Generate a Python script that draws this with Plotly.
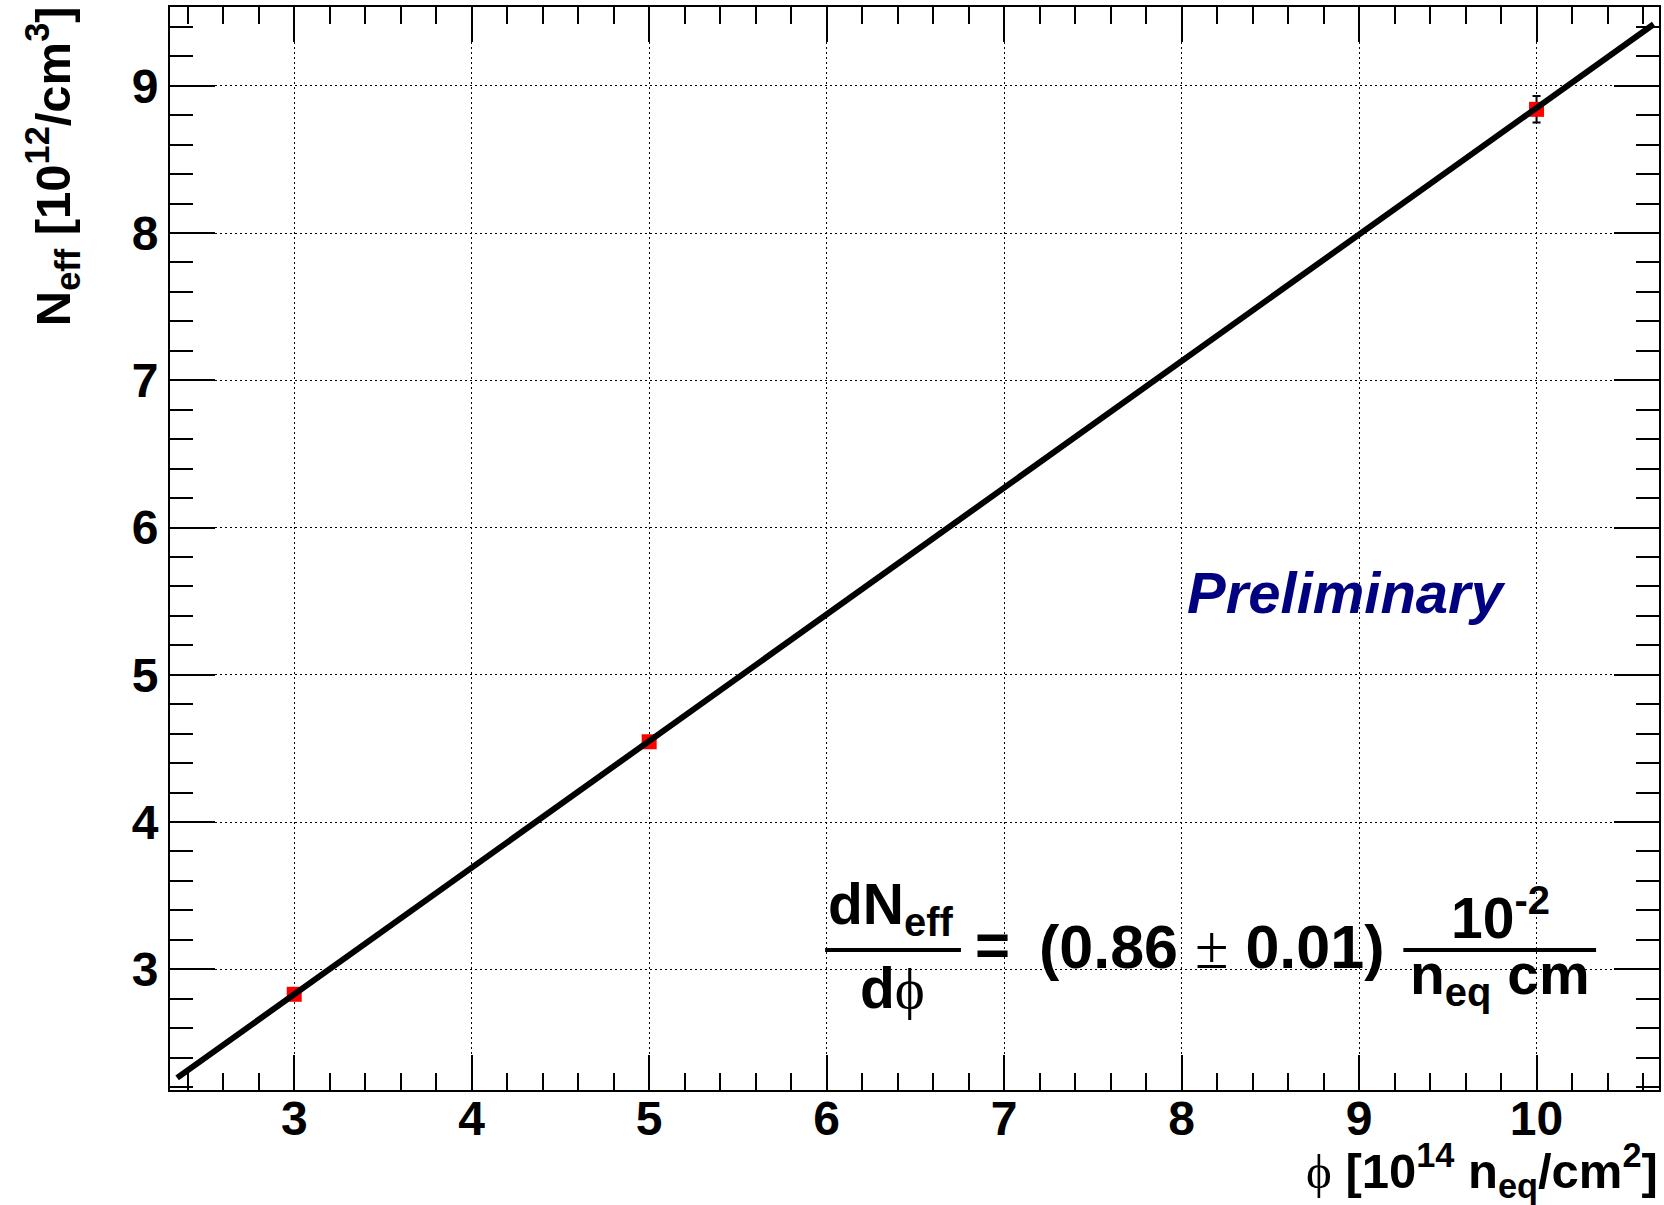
import numpy as np
import plotly.graph_objects as go

# Measured effective doping vs. fluence
fluence = [3, 5, 10]              # [1e14 n_eq/cm^2]
neff = [2.83, 4.545, 8.84]        # [1e12 /cm^3]
neff_err = [0.02, 0.02, 0.09]

# Linear fit: N_eff = intercept + slope * phi
fit_slope = 0.86
fit_slope_err = 0.01
fit_intercept = 0.25
fit_range = [2.34, 10.66]

x_range = [2.3, 10.69]
y_range = [2.18, 9.535]
x_tick_vals = [3, 4, 5, 6, 7, 8, 9, 10]
y_tick_vals = [3, 4, 5, 6, 7, 8, 9]

W, H = 1664, 1205
ML, MR, MT, MB = 170, 3, 7, 115
PW, PH = W - ML - MR, H - MT - MB


def paper(xp, yp):
    """Page pixel position -> paper coordinates."""
    return (xp - ML) / PW, (H - MB - yp) / PH


SANS = "Liberation Sans, Arial, Helvetica, sans-serif"
SERIF = "Liberation Serif, DejaVu Serif, Times New Roman, serif"

fig = go.Figure()

# data points with error bars
fig.add_trace(go.Scatter(
    x=fluence, y=neff, mode="markers",
    marker=dict(symbol="square", size=15, color="#ff0000", line=dict(width=0)),
    error_y=dict(type="data", array=neff_err, visible=True, color="black",
                 thickness=2, width=4),
    showlegend=False, hoverinfo="skip",
))

# fitted line drawn over the points
fx = np.linspace(fit_range[0], fit_range[1], 200)
fy = fit_intercept + fit_slope * fx
fig.add_trace(go.Scatter(
    x=fx, y=fy, mode="lines", line=dict(color="black", width=6),
    showlegend=False, hoverinfo="skip",
))

axis_common = dict(
    showline=True, linecolor="black", linewidth=2, mirror="ticks",
    ticks="inside", tickcolor="black", tickwidth=2,
    showgrid=True, gridcolor="black", gridwidth=1, griddash="2px,3px",
    zeroline=False,
    tickfont=dict(family=SANS, size=48, color="black", weight="bold"),
)

fig.update_xaxes(
    range=x_range, tickmode="array", tickvals=x_tick_vals,
    ticktext=[str(v) for v in x_tick_vals], ticklen=35,
    ticklabelstandoff=-15,
    minor=dict(dtick=0.2, tick0=0, ticks="inside", ticklen=17,
               tickwidth=2, tickcolor="black", showgrid=False),
    **axis_common,
)
fig.update_yaxes(
    range=y_range, tickmode="array", tickvals=y_tick_vals,
    ticktext=[str(v) for v in y_tick_vals], ticklen=45,
    minor=dict(dtick=0.2, tick0=0, ticks="inside", ticklen=23,
               tickwidth=2, tickcolor="black", showgrid=False),
    **axis_common,
)

annotations = []


def add_text(text, xp, yp, size, xanchor="center", yanchor="middle",
             color="black", angle=0, family=SANS, weight="bold", italic=False):
    x, y = paper(xp, yp)
    annotations.append(dict(
        text=text, x=x, y=y, xref="paper", yref="paper",
        xanchor=xanchor, yanchor=yanchor, showarrow=False, textangle=angle,
        font=dict(family=family, size=size, color=color, weight=weight,
                  style="italic" if italic else "normal"),
    ))


phi = f'<span style="font-family:{SERIF};font-weight:normal">\u03d5</span>'
pm = f'<span style="font-family:{SERIF};font-weight:normal">\u00b1</span>'

# axis titles
add_text(f"{phi} [10<sup>14</sup> n<sub>eq</sub>/cm<sup>2</sup>]",
         1662, 1207, 49, xanchor="right", yanchor="bottom")
add_text("N<sub>eff</sub> [10<sup>12</sup>/cm<sup>3</sup>]",
         52, 4, 49, xanchor="center", yanchor="top", angle=-90)

# label
add_text("Preliminary", 1348, 592, 58, color="#000080", italic=True)

# slope formula
FS = 57
add_text("dN<sub>eff</sub>", 891, 908, FS)
add_text(f"d{phi}", 893, 988, FS)
add_text("=", 994, 944, 60)
add_text(f"(0.86 {pm} 0.01)", 1213, 947, 61)
add_text("10<sup>-2</sup>", 1502, 914, FS)
add_text("n<sub>eq</sub> cm", 1502, 978, FS)

shapes = []
for x0, x1 in [(826, 962), (1405, 1598)]:
    a0, b0 = paper(x0, 950)
    a1, _ = paper(x1, 950)
    shapes.append(dict(type="line", xref="paper", yref="paper",
                       x0=a0, x1=a1, y0=b0, y1=b0,
                       line=dict(color="black", width=4)))

fig.update_layout(
    width=W, height=H,
    margin=dict(l=ML, r=MR, t=MT, b=MB, pad=0),
    paper_bgcolor="white", plot_bgcolor="white",
    annotations=annotations, shapes=shapes,
    showlegend=False,
)

fig.write_html("out.html")
